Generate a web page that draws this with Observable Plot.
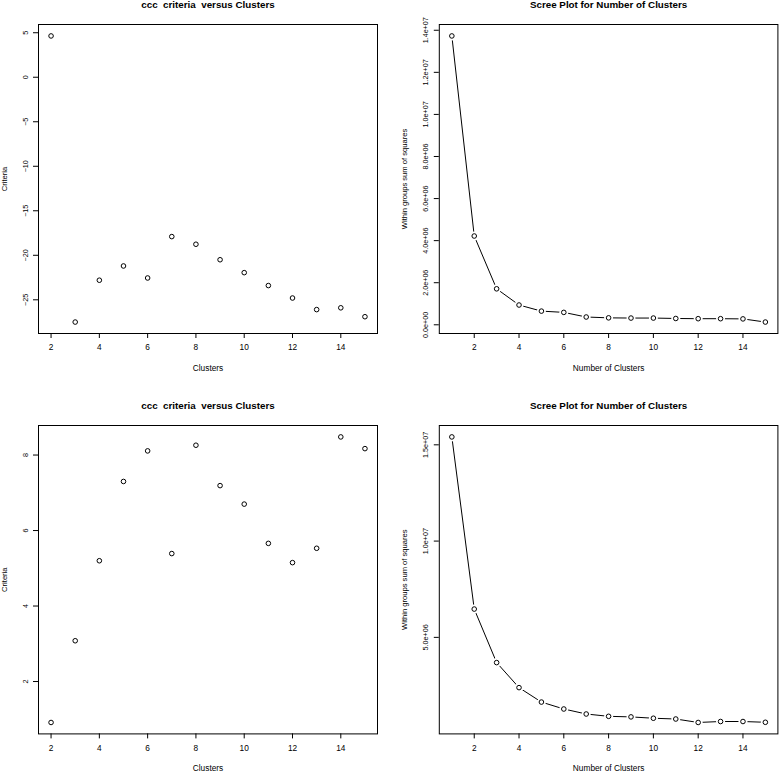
<!DOCTYPE html>
<html><head><meta charset="utf-8">
<script src="https://cdn.jsdelivr.net/npm/d3@7"></script>
<script src="https://cdn.jsdelivr.net/npm/@observablehq/plot@0.6"></script>
<style>
body{margin:0;background:#fff;}
#root{position:relative;width:780px;height:772px;overflow:hidden;background:#fff;}
.panel{position:absolute;}
.panel svg{overflow:visible;}
</style></head><body><div id="root"></div>
<script>
// ---- data ----
const clusters = [2,3,4,5,6,7,8,9,10,11,12,13,14,15];
const screeK = [1,2,3,4,5,6,7,8,9,10,11,12,13,14,15];
const cccTop = [4.64,-27.5,-22.8,-21.2,-22.55,-17.9,-18.76,-20.5,-21.95,-23.4,-24.8,-26.1,-25.9,-26.9];
const wssTop = [13.73e6,4.22e6,1.71e6,0.94e6,0.65e6,0.59e6,0.37e6,0.33e6,0.32e6,0.32e6,0.30e6,0.29e6,0.29e6,0.28e6,0.13e6];
const cccBottom = [0.915,3.08,5.20,7.30,8.11,5.39,8.26,7.19,6.70,5.66,5.15,5.53,8.48,8.17];
const wssBottom = [15.41e6,6.47e6,3.69e6,2.39e6,1.64e6,1.28e6,1.02e6,0.90e6,0.87e6,0.80e6,0.76e6,0.58e6,0.63e6,0.63e6,0.59e6];
const xTicks = [2,4,6,8,10,12,14];
const cccTopYTicks = [-25,-20,-15,-10,-5,0,5];
const cccTopYLabels = ["\u221225","\u221220","\u221215","\u221210","\u22125","0","5"];
const cccBottomYTicks = [2,4,6,8];
const cccBottomYLabels = ["2","4","6","8"];
const screeTopYTicks = [0,2e6,4e6,6e6,8e6,1e7,1.2e7,1.4e7];
const screeTopYLabels = ["0.0e+00","2.0e+06","4.0e+06","6.0e+06","8.0e+06","1.0e+07","1.2e+07","1.4e+07"];
const screeBottomYTicks = [5e6,1e7,1.5e7];
const screeBottomYLabels = ["5.0e+06","1.0e+07","1.5e+07"];
const titleCcc = "ccc  criteria  versus Clusters";
const titleScree = "Scree Plot for Number of Clusters";

function rDomain(v){const lo=d3.min(v),hi=d3.max(v),r=hi-lo;return [lo-0.04*r,hi+0.04*r];}

function panel(o){
  const data = o.xs.map((x,i)=>({x, y:o.ys[i]}));
  const fmt = d => o.yLabels[o.yTicks.indexOf(d)];
  const marks = [
    Plot.frame({stroke:"#000", strokeWidth:1}),
    Plot.axisX({ticks:xTicks, tickSize:5, tickPadding:6, label:null, fontSize:8.3}),
    Plot.axisY({ticks:o.yTicks, tickFormat:fmt, tickRotate:-90, tickSize:5, tickPadding:6, label:null, fontSize:7.2}),
    Plot.text([o.xlabel],{frameAnchor:"bottom", dy:34.5, lineAnchor:"middle", fontSize:8.3}),
    Plot.text([o.ylabel],{frameAnchor:"left", dx:-34.4, rotate:-90, textAnchor:"middle", lineAnchor:"middle", fontSize:7.6})
  ];
  if (o.line) {
    marks.push(Plot.line(data,{x:"x",y:"y",stroke:"#000",strokeWidth:1}));
    marks.push(Plot.dot(data,{x:"x",y:"y",r:4.5,fill:"#fff",stroke:"none"}));
  }
  marks.push(Plot.dot(data,{x:"x",y:"y",r:2.3,stroke:"#000",strokeWidth:1,fill:"none"}));
  marks.push(Plot.text([o.title],{frameAnchor:"top",dy:-19.5,fontWeight:"bold",fontSize:9.8,lineAnchor:"middle"}));
  const svg = Plot.plot({
    width:o.width, height:o.height,
    marginLeft:o.mL, marginRight:o.mR, marginTop:o.mT, marginBottom:o.mB,
    x:{domain:rDomain(o.xs)}, y:{domain:rDomain(o.ys)},
    style:{fontFamily:"'Liberation Sans', Arial, Helvetica, sans-serif", fontSize:"8px", color:"#000", background:"transparent"},
    marks
  });
  const div = document.createElement("div");
  div.className = "panel";
  div.style.left = o.left+"px"; div.style.top = o.top+"px";
  div.appendChild(svg);
  document.getElementById("root").appendChild(div);
}

panel({left:0, top:0, width:390, height:386, mL:38, mR:13, mT:24, mB:53,
  title:titleCcc, xs:clusters, ys:cccTop, xlabel:"Clusters", ylabel:"Criteria",
  yTicks:cccTopYTicks, yLabels:cccTopYLabels, line:false});
panel({left:390, top:0, width:390, height:386, mL:48.8, mR:2.6, mT:24, mB:53,
  title:titleScree, xs:screeK, ys:wssTop, xlabel:"Number of Clusters", ylabel:"Within groups sum of squares",
  yTicks:screeTopYTicks, yLabels:screeTopYLabels, line:true});
panel({left:0, top:386, width:390, height:386, mL:38, mR:13, mT:39, mB:38.6,
  title:titleCcc, xs:clusters, ys:cccBottom, xlabel:"Clusters", ylabel:"Criteria",
  yTicks:cccBottomYTicks, yLabels:cccBottomYLabels, line:false});
panel({left:390, top:386, width:390, height:386, mL:48.8, mR:2.6, mT:39, mB:38.6,
  title:titleScree, xs:screeK, ys:wssBottom, xlabel:"Number of Clusters", ylabel:"Within groups sum of squares",
  yTicks:screeBottomYTicks, yLabels:screeBottomYLabels, line:true});
</script></body></html>
